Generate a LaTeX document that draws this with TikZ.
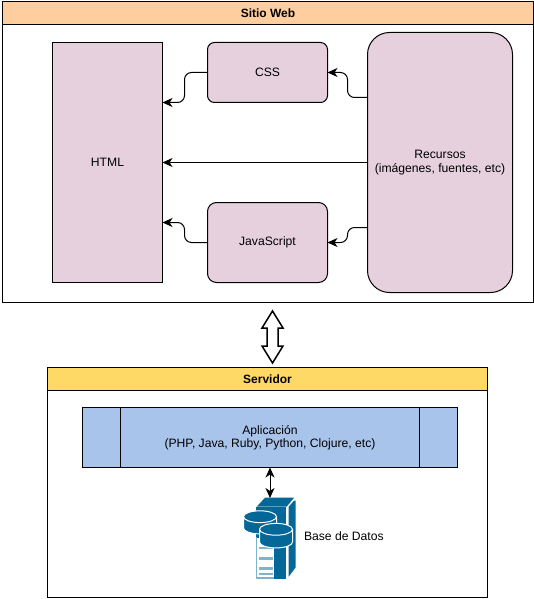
\documentclass[tikz,border=0pt]{standalone}
\usepackage{fontspec}
\setmainfont{Liberation Sans}
\usetikzlibrary{arrows.meta,calc}
\definecolor{hdrA}{HTML}{FFCE9F}
\definecolor{hdrB}{HTML}{FFD966}
\definecolor{mauve}{HTML}{E6D0DE}
\definecolor{appblue}{HTML}{A9C4EB}
\definecolor{teal}{HTML}{036897}
\definecolor{teallight}{HTML}{7FB3CB}
\tikzset{
  x=1pt,y=-1pt,
  every node/.style={font=\fontsize{12.15}{14}\selectfont,align=center,inner sep=0pt,outer sep=0pt},
  frame/.style={draw=black,line width=1pt,fill=white,anchor=north west},
  hdr/.style={draw=black,line width=1pt,anchor=north west,font=\fontsize{12}{14}\selectfont\bfseries},
  box/.style={draw=black,line width=1pt,fill=mauve,anchor=north west},
  link/.style={draw=black,line width=1pt,rounded corners=7pt,-{Stealth[length=10pt,width=9pt,inset=3pt]}},
  straightlink/.style={draw=black,line width=1pt,-{Stealth[length=10pt,width=9pt,inset=3pt]}},
  both/.style={draw=black,line width=1pt,{Stealth[length=10pt,width=9pt,inset=3pt]}-{Stealth[length=10pt,width=9pt,inset=3pt]}},
  cyl/.style={fill=teal,draw=white,line width=1pt},
}
\begin{document}
\begin{tikzpicture}
\useasboundingbox (0,0) rectangle (534,599);
\fill[white] (0,0) rectangle (534,599);
% Sitio Web
\node[frame,minimum width=531pt,minimum height=277pt] (web) at (2.5,25) {};
\node[hdr,fill=hdrA,minimum width=531pt,minimum height=23pt] (webh) at (2.5,2) {Sitio Web};
\node[box,minimum width=110pt,minimum height=240pt] (html) at (52.5,42.5) {HTML};
\node[box,rounded corners=7pt,minimum width=120pt,minimum height=60pt] (css) at (207.5,42.5) {CSS};
\node[box,rounded corners=9pt,minimum width=120pt,minimum height=80pt] (js) at (207.5,202.5) {JavaScript};
\node[box,rounded corners=22pt,minimum width=145pt,minimum height=260pt] (rec) at (367.5,32.5) {Recursos\\(imágenes, fuentes, etc)};
% anchor points on box sides
\coordinate (htmlA) at (162.5,102.5);
\coordinate (htmlB) at (162.5,222.5);
\coordinate (recA) at (367.5,97.5);
\coordinate (recB) at (367.5,227.5);
\coordinate (mA) at (347.5,0);
\coordinate (mB) at (184.5,0);
% connectors
\draw[link] (recA) -- (mA |- recA) -- (mA |- css.east) -- (css.east);
\draw[link] (recB) -- (mA |- recB) -- (mA |- js.east) -- (js.east);
\draw[link] (css.west) -- (mB |- css.west) -- (mB |- htmlA) -- (htmlA);
\draw[link] (js.west) -- (mB |- js.west) -- (mB |- htmlB) -- (htmlB);
\draw[straightlink] (rec.west) -- (html.east);
% Big double arrow
\node[minimum width=22pt,minimum height=52pt] (dbl) at (272.5,337) {};
\coordinate (dblT) at (dbl.north);
\coordinate (dblB) at (dbl.south);
\draw[line width=1.5pt,fill=white,line join=miter] (dblT) -- ++(10.5,17) -- ++(-5,0) -- ++(0,18) -- ++(5,0) -- (dblB) -- ++(-10.5,-17) -- ++(5,0) -- ++(0,-18) -- ++(-5,0) -- cycle;
% Servidor
\node[frame,minimum width=440pt,minimum height=207pt] (srv) at (47.5,390.5) {};
\node[hdr,fill=hdrB,minimum width=440pt,minimum height=23pt] (srvh) at (47.5,367.5) {Servidor};
\node[draw=black,line width=1pt,fill=appblue,anchor=north west,minimum width=375pt,minimum height=60pt] (app) at (82.5,407.5) {};
\node (applbl) at (270,437.5) {Aplicación\\[-1pt](PHP, Java, Ruby, Python, Clojure, etc)};
\draw[line width=1pt] (120.5,407.5) -- (120.5,467.5) (419.5,407.5) -- (419.5,467.5);
% DB icon
\node[anchor=north west,minimum width=55pt,minimum height=81pt] (db) at (242,498) {};
\begin{scope}[shift={(220,460)}]
 % tower
 \fill[teal] (45,37.7) -- (74,37.7) -- (66.7,46.7) -- (36.7,46.7) -- cycle;
 \fill[teal] (68.7,46.7) -- (74,40.7) -- (75.7,40.7) -- (75.7,107.3) -- (68.7,116.7) -- cycle;
 \fill[teal] (36,46.7) -- (66,46.7) -- (66,118.7) -- (36,118.7) -- cycle;
 % server panel
 \fill[white] (35.7,78) rectangle (54.3,116.7);
 \fill[teallight] (35.7,77.3) rectangle (37,118.7);
 \fill[teallight] (35.7,116.7) rectangle (54.3,118.7);
 \fill[teallight] (38.7,87.3) rectangle (52.7,89.3);
 \fill[teallight] (38.7,97.3) rectangle (52.7,100);
 \fill[teallight] (38.7,107.3) rectangle (52.7,110);
 \fill[teallight] (38.7,112.7) rectangle (52.7,115.3);
 % cylinders
 \path[cyl] (23.5,56.7) -- (23.5,68) arc[start angle=180,end angle=360,x radius=16.5pt,y radius=5.9pt] -- (56.5,56.7) arc[start angle=0,end angle=180,x radius=16.5pt,y radius=5.9pt] -- cycle;
 \draw[white,line width=1pt] (23.5,56.7) arc[start angle=180,end angle=360,x radius=16.5pt,y radius=5.9pt];
 \path[cyl] (39.5,69.3) -- (39.5,82) arc[start angle=180,end angle=360,x radius=16.5pt,y radius=5.9pt] -- (72.5,69.3) arc[start angle=0,end angle=180,x radius=16.5pt,y radius=5.9pt] -- cycle;
 \draw[white,line width=1pt] (39.5,69.3) arc[start angle=180,end angle=360,x radius=16.5pt,y radius=5.9pt];
\end{scope}
\node[anchor=west] (dblbl) at (304,536) {Base de Datos};
\draw[both] (app.south) -- (app.south |- db.north);
\end{tikzpicture}
\end{document}
